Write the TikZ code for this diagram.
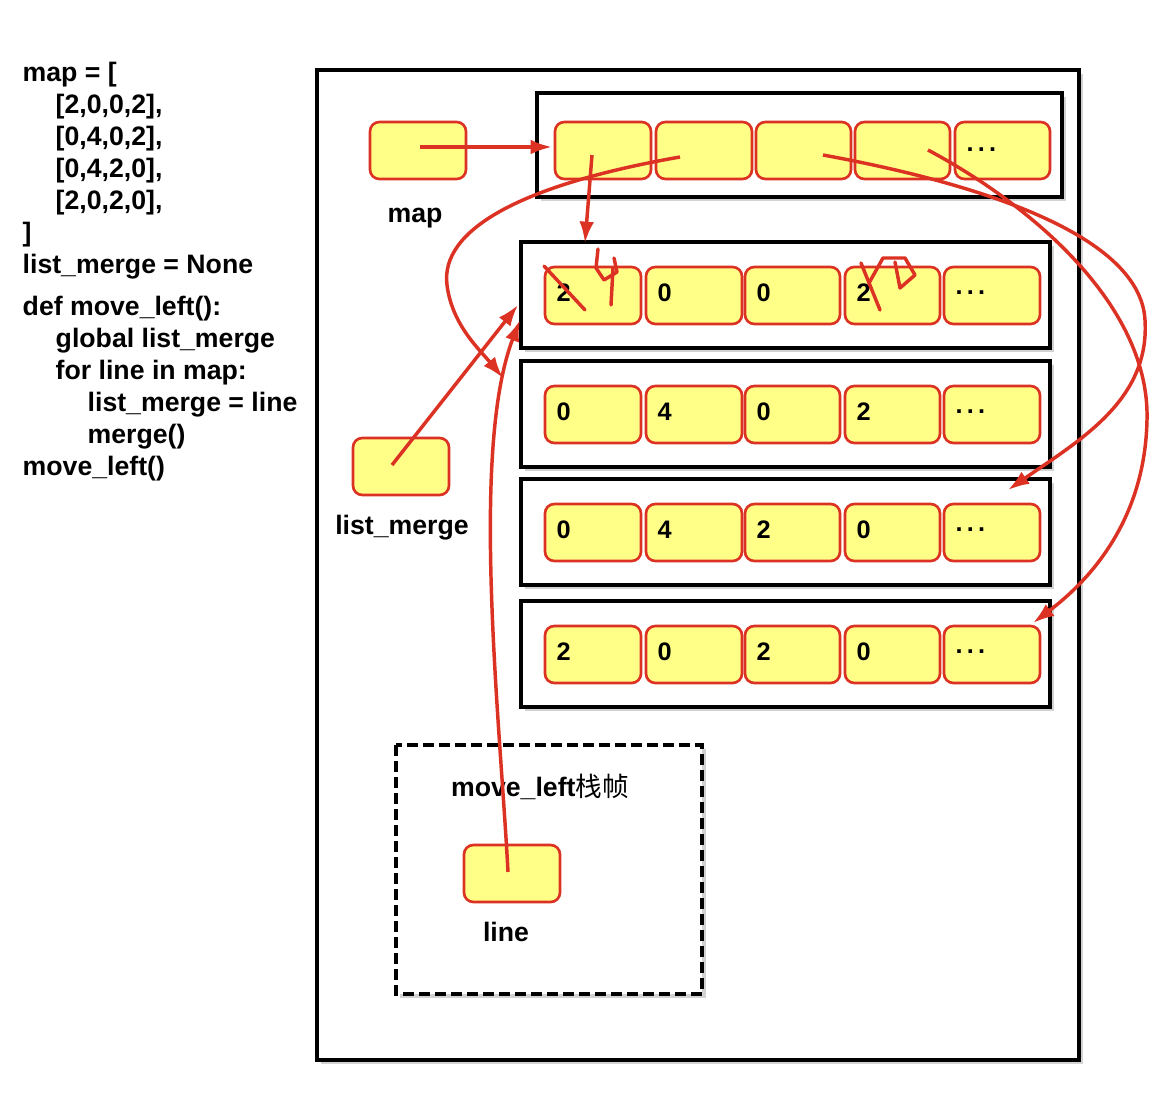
\documentclass[tikz,border=0pt]{standalone}
\usepackage{fontspec}
\setmainfont{Liberation Sans}
\newfontfamily\cjk{Noto Sans CJK SC}
\usetikzlibrary{arrows.meta,shadows}
\definecolor{cellfill}{RGB}{255,255,136}
\definecolor{ared}{RGB}{220,50,35}
\def\mydots{\raisebox{-2pt}{.\,.\,.}}
\begin{document}
\begin{tikzpicture}[x=0.75pt,y=-0.75pt,
  frame/.style={draw=black,line width=3.2pt,fill=white,drop shadow={shadow xshift=3pt,shadow yshift=-3pt,opacity=0.35}},
  cell/.style={draw=ared,line width=2pt,fill=cellfill,rounded corners=7pt},
  ctext/.style={font=\bfseries\fontsize{19}{19}\selectfont,anchor=west},
  lab/.style={font=\bfseries\fontsize{20}{20}\selectfont},
  code/.style={font=\bfseries\fontsize{20}{20}\selectfont,anchor=west},
  arr/.style={draw=ared,line width=2.6pt,-{Latex[length=16pt,width=11pt]}},
  scr/.style={draw=ared,line width=2.6pt,line cap=round,line join=round}]
\useasboundingbox (0,0) rectangle (1175,1100);
% code
\node[code] (c1) at (18,75) {map = [};
\node[code] (c2) at (51,107) {[2,0,0,2],};
\node[code] (c3) at (51,139) {[0,4,0,2],};
\node[code] (c4) at (51,171) {[0,4,2,0],};
\node[code] (c5) at (51,203) {[2,0,2,0],};
\node[code] (c6) at (18,235) {]};
\node[code] (c7) at (18,267) {list\_merge = None};
\node[code] (c8) at (18,309) {def move\_left():};
\node[code] (c9) at (51,341) {global list\_merge};
\node[code] (c10) at (51,373) {for line in map:};
\node[code] (c11) at (83,405) {list\_merge = line};
\node[code] (c12) at (83,437) {merge()};
\node[code] (c13) at (18,469) {move\_left()};
% outer
\draw[frame] (317,70) rectangle (1079,1060);
% map array
\draw[frame] (537,93) rectangle (1062,197);
\foreach \x/\w [count=\i] in {555/651,656/752,756/851,855/950,955/1050}
  \draw[cell] (\x,122) rectangle (\w,179) coordinate (m\i);
\node[ctext] (mdots) at (962,150) {\mydots};
\draw[cell] (370,122) rectangle (466,179);
\node[lab] (lmap) at (415,218) {map};
% rows
\foreach \fy/\cy/\a/\b/\c/\d in {242/267/2/0/0/2, 361/386/0/4/0/2, 479/504/0/4/2/0, 601/626/2/0/2/0}{
  \draw[frame] (521,\fy) rectangle (1050,\fy+106);
  \foreach \x/\w/\t in {545/641/\a,646/742/\b,745/840/\c,845/940/\d,944/1040/\mydots}{
    \draw[cell] (\x,\cy) rectangle (\w,\cy+57);
    \node[ctext] at (\x+7,\cy+26) {\t};
  }
}
% list_merge
\draw[cell] (353,438) rectangle (449,495);
\node[lab] (llm) at (402,528) {list\_merge};
% dashed frame
\draw[black,line width=3pt,dash pattern=on 8pt off 4pt,drop shadow={shadow xshift=3pt,shadow yshift=-3pt,opacity=0.35},fill=white] (396,745) rectangle (702,994);
\node[lab] (lml) at (540,787) {move\_left{\cjk\mdseries 栈帧}};
\draw[cell] (464,845) rectangle (560,902);
\node[lab] (lline) at (506,932) {line};
% arrows
\coordinate (a0) at (420,147); \coordinate (a0e) at (552,147);
\draw[arr] (a0) -- (a0e);
\coordinate (b0) at (592,155); \coordinate (b0e) at (585,243);
\draw[arr] (b0) -- (b0e);
\coordinate (c0) at (680,157); \coordinate (c0e) at (503,378);
\draw[arr] (c0) .. controls (520,185) and (440,230) .. (447,285) .. controls (452,325) and (480,350) .. (c0e);
\coordinate (d0) at (823,155); \coordinate (d0e) at (1008,490);
\draw[arr] (d0) .. controls (960,180) and (1140,230) .. (1145,320) .. controls (1150,400) and (1080,440) .. (d0e);
\coordinate (e0) at (928,150); \coordinate (e0e) at (1033,623);
\draw[arr] (e0) .. controls (1040,210) and (1150,310) .. (1147,420) .. controls (1145,520) and (1090,580) .. (e0e);
\coordinate (f0) at (392,465); \coordinate (f0e) at (518,305);
\draw[arr] (f0) -- (f0e);
\coordinate (g0) at (508,872); \coordinate (g0e) at (520,320);
\draw[arr] (g0) .. controls (500,720) and (470,450) .. (g0e);
% scribbles
\draw[scr] (544,266) -- (585,310);
\draw[scr] (598,249) -- (596,268) -- (604,280) -- (617,272) -- (614,258);
\draw[scr] (613,268) -- (611,305);
\draw[scr] (861,263) -- (880,310);
\draw[scr] (869,283) -- (883,258) -- (905,258) -- (915,275) -- (900,288) -- (895,262);
\end{tikzpicture}
\end{document}
